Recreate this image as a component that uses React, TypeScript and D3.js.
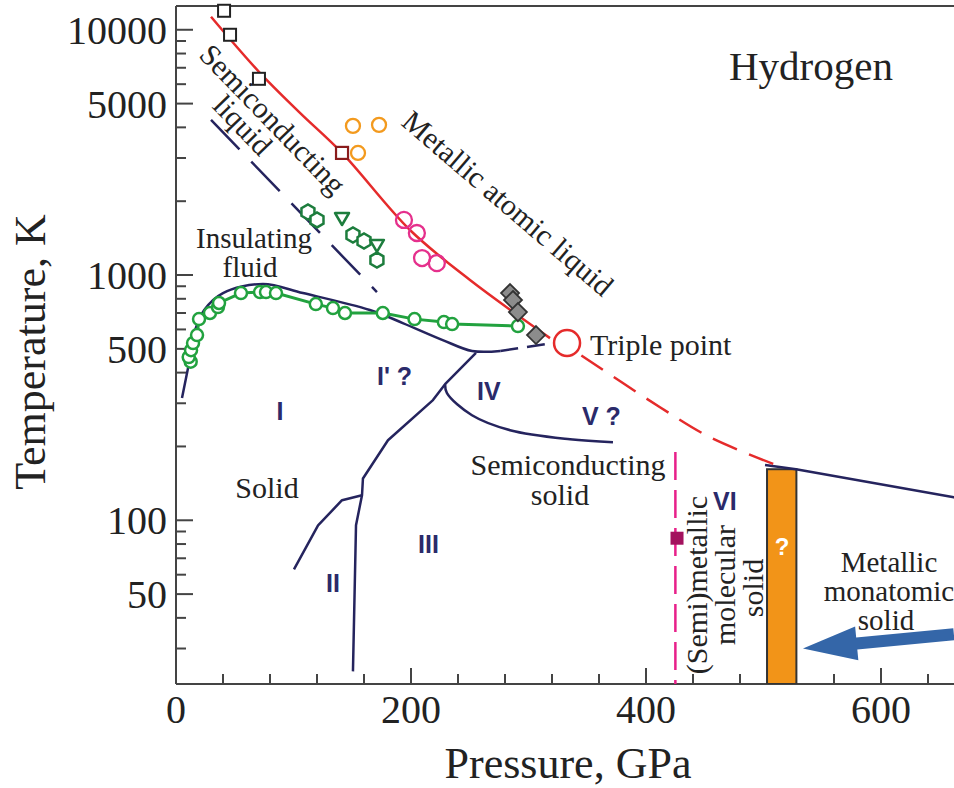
import React from 'react';
import * as d3 from 'd3';

type Pt = [number, number]; // [pressure GPa, temperature K]

// ---------- data ----------
const greenCurve: Pt[] = [
  [12.5, 443], [10.8, 463], [12.8, 494], [14.5, 528], [17.9, 569], [19.6, 661],
  [28.9, 700], [35.7, 740], [36.6, 769], [55.3, 844], [71.5, 852], [76.6, 852],
  [85.1, 844], [119, 761], [133.6, 733], [143.8, 700], [176, 700], [203, 661],
  [228, 643], [235, 631], [291, 619],
];
const meltCurve: Pt[] = [
  [5.1, 315], [10.2, 417], [16, 590], [24, 720], [40, 844], [74, 919], [108, 844],
  [165, 720], [193, 637], [227, 543], [252, 490], [276, 490],
];
const meltDashed: Pt[] = [[276, 490], [300, 510], [320, 528]];
const redSolid: Pt[] = [
  [29.8, 11300], [70.6, 6740], [105.5, 4584], [141.3, 3147], [199.1, 1526],
  [250.2, 954], [318.3, 553],
];
const redDashed: Pt[] = [[345, 470], [411.9, 289], [454.5, 218], [515.7, 164.5]];
const semiLiqBoundary: Pt[] = [[29.8, 4292], [171, 852]];
const lineI_III: Pt[] = [
  [255.3, 481], [229, 359], [218.7, 309], [180.4, 212], [159.1, 148], [158.3, 126.5],
  [153.2, 95.4], [150.6, 24.2],
];
const lineI_II: Pt[] = [[158.3, 126.5], [141.3, 120.7], [120.9, 95.4], [100.4, 63.1]];
const lineIV_V: Pt[] = [
  [229, 359], [230.6, 330], [251.9, 268], [284.3, 233], [335.3, 214], [371.9, 208],
];
const metalSolidLine: Pt[] = [[501.3, 168], [527.7, 161.5], [662, 124], [700, 115]];
const squaresBlack: Pt[] = [[40.9, 11953], [46, 9541], [70.6, 6310]];
const squaresBrown: Pt[] = [[141.3, 3147]];
const orangeCircles: Pt[] = [[150.6, 4056], [172.8, 4095], [154.9, 3147]];
const magentaCircles: Pt[] = [[194, 1677], [205, 1484], [209.4, 1173], [222, 1119]];
const greenHexagons: Pt[] = [[112.3, 1807], [120, 1677], [150.6, 1456], [160, 1376], [171, 1151]];
const greenTriangles: Pt[] = [[141.3, 1708], [171, 1326]];
const greyDiamonds: Pt[] = [[284.3, 844], [286.8, 791], [291, 706], [306.4, 569]];
const triplePoint: Pt = [332.8, 528];
const orangeBar = { p0: 503, p1: 528, tTop: 161.5 };
const pinkLine = { p: 425, tTop: 190 };
const pinkSquare: Pt = [426.4, 84.5];
const arrowTail: Pt = [662, 34.3];
const arrowTip: Pt = [533.6, 30];

const xMajor = [0, 200, 400, 600];
const xMinorStep = 40;
const yMajor = [50, 100, 500, 1000, 5000, 10000];

// ---------- layout ----------
const W = 954, H = 788;
const X0 = 176, Y0 = 684, YTOP = 6;
const x = d3.scaleLinear().domain([0, 700]).range([X0, X0 + 700 * 1.175]);
const y = d3.scaleLog().domain([21.5, 12500]).range([Y0, YTOP]);

const NAVY = '#25245e';
const RED = '#e52b2b';
const GREEN = '#22a23f';
const DGREEN = '#1d7d3d';
const serif = "'Liberation Serif', 'Times New Roman', serif";
const sans = "'Liberation Sans', Arial, sans-serif";

const lin = d3.line<Pt>().x(d => x(d[0])).y(d => y(d[1]));
const smooth = d3.line<Pt>().x(d => x(d[0])).y(d => y(d[1])).curve(d3.curveCatmullRom.alpha(0.5));

function hexPoints(cx: number, cy: number, r: number) {
  return d3.range(6).map(i => {
    const a = Math.PI / 6 + (i * Math.PI) / 3;
    return `${cx + r * Math.cos(a)},${cy + r * Math.sin(a)}`;
  }).join(' ');
}

function arrowPolygon() {
  const tx = x(arrowTail[0]), ty = y(arrowTail[1]);
  const hx = x(arrowTip[0]), hy = y(arrowTip[1]);
  const dx = hx - tx, dy = hy - ty;
  const len = Math.hypot(dx, dy);
  const ux = dx / len, uy = dy / len;
  const nx = -uy, ny = ux;
  const headLen = 54, headW = 17, shaftW = 6;
  const bx = hx - ux * headLen, by = hy - uy * headLen;
  const pts = [
    [tx + nx * shaftW, ty + ny * shaftW],
    [bx + nx * shaftW, by + ny * shaftW],
    [bx + nx * headW, by + ny * headW],
    [hx, hy],
    [bx - nx * headW, by - ny * headW],
    [bx - nx * shaftW, by - ny * shaftW],
    [tx - nx * shaftW, ty - ny * shaftW],
  ];
  return pts.map(p => p.join(',')).join(' ');
}

export default function App() {
  const xTicks = d3.range(0, 700, xMinorStep);
  const yTicks: number[] = [];
  [10, 100, 1000, 10000].forEach(dec => {
    for (let m = 1; m <= 9; m++) {
      const v = dec * m;
      if (v >= 21.5 && v <= 12500) yTicks.push(v);
    }
  });

  const txt = { fontFamily: serif, fill: '#222' } as const;
  const lab = { fontFamily: sans, fontWeight: 700, fill: '#2b2a6a', fontSize: 25 } as const;

  return (
    <svg width={W} height={H} style={{ position: 'absolute', left: 0, top: 0, background: '#fff' }}>
      <defs>
        <clipPath id="plot">
          <rect x={X0} y={YTOP} width={W - X0} height={Y0 - YTOP} />
        </clipPath>
      </defs>

      {/* axes frame */}
      <g stroke="#444" strokeWidth={2} fill="none">
        <line x1={X0} y1={YTOP} x2={W} y2={YTOP} />
        <line x1={X0} y1={YTOP} x2={X0} y2={Y0} />
        <line x1={X0} y1={Y0} x2={W} y2={Y0} />
        {xTicks.map(t => (
          <line key={'xt' + t} x1={x(t)} x2={x(t)} y1={Y0} y2={Y0 - (xMajor.includes(t) ? 16 : 10)} />
        ))}
        {yTicks.map(t => (
          <line key={'yt' + t} x1={X0} x2={X0 + (yMajor.includes(t) ? 17 : 10)} y1={y(t)} y2={y(t)} />
        ))}
      </g>
      {xMajor.map(t => (
        <text key={'xl' + t} x={x(t)} y={723} textAnchor="middle" fontSize={40} {...txt}>{t}</text>
      ))}
      {yMajor.map(t => (
        <text key={'yl' + t} x={167} y={y(t)} dy="0.35em" textAnchor="end" fontSize={40} {...txt}>{t}</text>
      ))}
      <text x={568} y={778} textAnchor="middle" fontSize={44} {...txt}>Pressure, GPa</text>
      <text transform="translate(45,352) rotate(-90)" textAnchor="middle" fontSize={44} {...txt}>Temperature, K</text>

      <g clipPath="url(#plot)">
        {/* orange bar */}
        <rect x={x(orangeBar.p0)} y={y(orangeBar.tTop)} width={x(orangeBar.p1) - x(orangeBar.p0)}
          height={Y0 - y(orangeBar.tTop)} fill="#f29418" stroke="#333" strokeWidth={2} />
        {/* pink dashed */}
        <line x1={x(pinkLine.p)} x2={x(pinkLine.p)} y1={y(pinkLine.tTop)} y2={Y0}
          stroke="#e8208a" strokeWidth={2.5} strokeDasharray="28,10" />
        {/* navy phase lines */}
        <g fill="none" stroke={NAVY} strokeWidth={2.5} strokeLinejoin="round">
          <path d={smooth(meltCurve) || ''} />
          <path d={lin(meltDashed) || ''} strokeDasharray="18,9" />
          <path d={lin(lineI_III) || ''} />
          <path d={lin(lineI_II) || ''} />
          <path d={smooth(lineIV_V) || ''} />
          <path d={lin(metalSolidLine) || ''} />
          <path d={lin(semiLiqBoundary) || ''} strokeDasharray="41,17" />
        </g>
        {/* red lines */}
        <path d={smooth(redSolid) || ''} fill="none" stroke={RED} strokeWidth={2.5} />
        <path d={smooth(redDashed) || ''} fill="none" stroke={RED} strokeWidth={2.5} strokeDasharray="26,13" />
        {/* green curve */}
        <path d={lin(greenCurve) || ''} fill="none" stroke={GREEN} strokeWidth={3} />
        {greenCurve.map((d, i) => (
          <circle key={'g' + i} cx={x(d[0])} cy={y(d[1])} r={6} fill="#fff" stroke={GREEN} strokeWidth={2.5} />
        ))}
      </g>

      {/* markers */}
      {squaresBlack.map((d, i) => (
        <rect key={'sb' + i} x={x(d[0]) - 6} y={y(d[1]) - 6} width={12} height={12} fill="#fff" stroke="#222" strokeWidth={2} />
      ))}
      {squaresBrown.map((d, i) => (
        <rect key={'sr' + i} x={x(d[0]) - 6} y={y(d[1]) - 6} width={12} height={12} fill="#fff" stroke="#8a1c1c" strokeWidth={2.2} />
      ))}
      {orangeCircles.map((d, i) => (
        <circle key={'oc' + i} cx={x(d[0])} cy={y(d[1])} r={7} fill="none" stroke="#f39a1e" strokeWidth={2.3} />
      ))}
      {magentaCircles.map((d, i) => (
        <circle key={'mc' + i} cx={x(d[0])} cy={y(d[1])} r={8} fill="none" stroke="#e5308c" strokeWidth={2.3} />
      ))}
      {greenHexagons.map((d, i) => (
        <polygon key={'hx' + i} points={hexPoints(x(d[0]), y(d[1]), 7.5)} fill="#fff" stroke={DGREEN} strokeWidth={2.5} />
      ))}
      {greenTriangles.map((d, i) => {
        const cx = x(d[0]), cy = y(d[1]);
        return <polygon key={'tr' + i} points={`${cx - 7},${cy - 5} ${cx + 7},${cy - 5} ${cx},${cy + 7}`}
          fill="#fff" stroke={DGREEN} strokeWidth={2.5} strokeLinejoin="round" />;
      })}
      {greyDiamonds.map((d, i) => {
        const cx = x(d[0]), cy = y(d[1]);
        return <polygon key={'dm' + i} points={`${cx},${cy - 9} ${cx + 9},${cy} ${cx},${cy + 9} ${cx - 9},${cy}`}
          fill="#8c8c8c" stroke="#333" strokeWidth={1.8} />;
      })}
      <circle cx={x(triplePoint[0])} cy={y(triplePoint[1])} r={13} fill="#fff" stroke={RED} strokeWidth={2.5} />
      <rect x={x(pinkSquare[0]) - 6.5} y={y(pinkSquare[1]) - 6.5} width={13} height={13} fill="#a3125e" />
      <polygon points={arrowPolygon()} fill="#3466a8" />

      {/* text labels */}
      <text x={729} y={80} fontSize={41} {...txt}>Hydrogen</text>
      <text x={590} y={355} fontSize={30} {...txt}>Triple point</text>
      <text transform="translate(508,203) rotate(40.6)" textAnchor="middle" dy="0.35em" fontSize={30} {...txt}>Metallic atomic liquid</text>
      <text transform="translate(273,119) rotate(46)" textAnchor="middle" dy="0.35em" fontSize={30} {...txt}>Semiconducting</text>
      <text transform="translate(243,125) rotate(46)" textAnchor="middle" dy="0.35em" fontSize={30} {...txt}>liquid</text>
      <text x={254} y={248} textAnchor="middle" fontSize={29} {...txt}>Insulating</text>
      <text x={250} y={277} textAnchor="middle" fontSize={29} {...txt}>fluid</text>
      <text x={267} y={498} textAnchor="middle" fontSize={30} {...txt}>Solid</text>
      <text x={568} y={475} textAnchor="middle" fontSize={30} {...txt}>Semiconducting</text>
      <text x={560} y={505} textAnchor="middle" fontSize={30} {...txt}>solid</text>
      <text x={889} y={572} textAnchor="middle" fontSize={29} {...txt}>Metallic</text>
      <text x={889} y={601} textAnchor="middle" fontSize={29} {...txt}>monatomic</text>
      <text x={886} y={630} textAnchor="middle" fontSize={29} {...txt}>solid</text>
      <text transform="translate(707,585) rotate(-90)" textAnchor="middle" fontSize={30} {...txt}>(Semi)metallic</text>
      <text transform="translate(735,585) rotate(-90)" textAnchor="middle" fontSize={30} {...txt}>molecular</text>
      <text transform="translate(763,588) rotate(-90)" textAnchor="middle" fontSize={30} {...txt}>solid</text>

      <text x={280} y={420} textAnchor="middle" {...lab}>I</text>
      <text x={377} y={385} {...lab}>I' ?</text>
      <text x={477} y={400} {...lab}>IV</text>
      <text x={582} y={425} {...lab}>V ?</text>
      <text x={326} y={592} {...lab}>II</text>
      <text x={418} y={553} {...lab}>III</text>
      <text x={713} y={510} {...lab}>VI</text>
      <text x={782} y={555} textAnchor="middle" fontFamily={sans} fontWeight={700} fontSize={24} fill="#fff">?</text>
    </svg>
  );
}
